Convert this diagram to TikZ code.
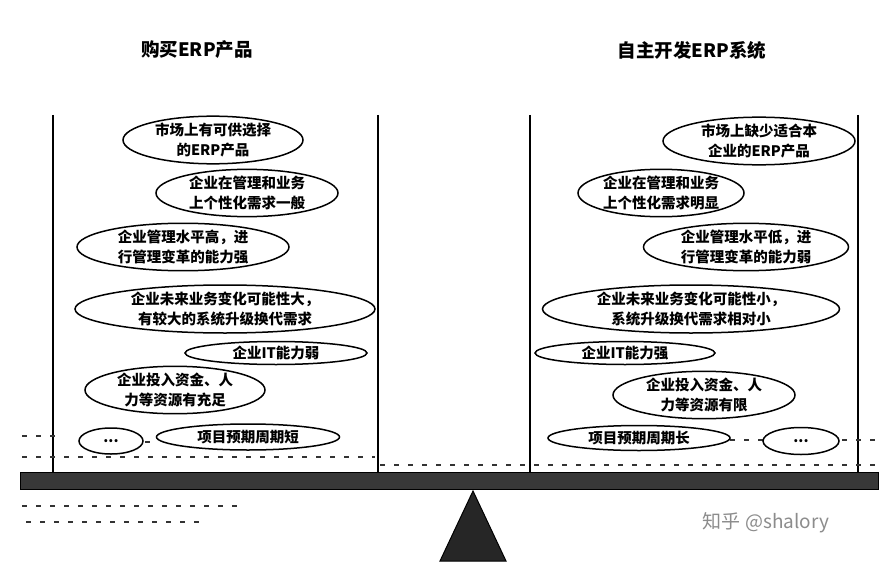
\documentclass[tikz,border=0pt]{standalone}
\usepackage{fontspec}
\setmainfont{Noto Sans CJK SC}
\usetikzlibrary{shapes.geometric}
\tikzset{
  bubble/.style={ellipse, draw=black, line width=1.5pt, fill=white, inner sep=0pt,
    align=center, font=\fontsize{14.5}{19.5}\selectfont\bfseries},
  title/.style={font=\fontsize{18.5}{22}\selectfont\bfseries},
  wall/.style={line width=2.3pt, black},
  noise/.style={line width=1.4pt, black!80, dash pattern=on 5pt off 9pt},
}
\begin{document}
\begin{tikzpicture}[x=1pt,y=-1pt]
\useasboundingbox[fill=white] (0,0) rectangle (890,564);
% titles
\node[title] (tl) at (197,50) {购买ERP产品};
\node[title] (tr) at (692,50) {自主开发ERP系统};
% pans
\coordinate (a1) at (53,115); \coordinate (a2) at (53,472);
\coordinate (b1) at (378,115); \coordinate (b2) at (378,472);
\coordinate (c1) at (530,115); \coordinate (c2) at (530,472);
\coordinate (d1) at (858,115); \coordinate (d2) at (858,472);
\draw[wall] (a1) -- (a2); \draw[wall] (b1) -- (b2);
\draw[wall] (c1) -- (c2); \draw[wall] (d1) -- (d2);
% noise dashes
\draw[noise] (22,436) -- (60,436);
\draw[noise] (22,457) -- (375,457);
\draw[noise] (380,465) -- (880,465);
\draw[noise] (22,506) -- (240,506);
\draw[noise] (26,522) -- (200,522);
\draw[noise] (730,440) -- (880,440);
\draw[noise] (145,442) -- (158,442);
% left bubbles
\node[bubble, minimum width=180pt, minimum height=44pt] (l1) at (213,140) {市场上有可供选择\\的ERP产品};
\node[bubble, minimum width=182pt, minimum height=44pt] (l2) at (247,193) {企业在管理和业务\\上个性化需求一般};
\node[bubble, minimum width=212pt, minimum height=44pt] (l3) at (183,247) {企业管理水平高，进\\行管理变革的能力强};
\node[bubble, minimum width=300pt, minimum height=48pt] (l4) at (225,309) {企业未来业务变化可能性大，\\有较大的系统升级换代需求};
\node[bubble, minimum width=182pt, minimum height=23pt] (l5) at (276,353) {企业IT能力弱};
\node[bubble, minimum width=180pt, minimum height=46pt] (l6) at (175,390) {企业投入资金、人\\力等资源有充足};
\node[bubble, minimum width=64pt, minimum height=26pt] (l7) at (111,441) {...};
\node[bubble, minimum width=183pt, minimum height=26pt] (l8) at (248,437) {项目预期周期短};
% right bubbles
\node[bubble, minimum width=192pt, minimum height=46pt] (r1) at (759,141) {市场上缺少适合本\\企业的ERP产品};
\node[bubble, minimum width=166pt, minimum height=46pt] (r2) at (661,193) {企业在管理和业务\\上个性化需求明显};
\node[bubble, minimum width=205pt, minimum height=46pt] (r3) at (746,247) {企业管理水平低，进\\行管理变革的能力弱};
\node[bubble, minimum width=297pt, minimum height=48pt] (r4) at (691,309) {企业未来业务变化可能性小，\\系统升级换代需求相对小};
\node[bubble, minimum width=180pt, minimum height=23pt] (r5) at (625,353) {企业IT能力强};
\node[bubble, minimum width=182pt, minimum height=46pt] (r6) at (704,395) {企业投入资金、人\\力等资源有限};
\node[bubble, minimum width=182pt, minimum height=25pt] (r7) at (639,438) {项目预期周期长};
\node[bubble, minimum width=76pt, minimum height=27pt] (r8) at (801,441) {...};
% beam and fulcrum
\node[draw=black, line width=1pt, fill=black!78, minimum width=858pt, minimum height=17pt, inner sep=0pt] (beam) at (449,481) {};
\coordinate (ap) at (473,491);
\coordinate (bl) at (440,561);
\coordinate (br) at (506,561);
\draw[fill=black!85, line width=1pt] (ap) -- (bl) -- (br) -- cycle;
% watermark
\node[font=\fontsize{19}{22}\selectfont, text=black!45] (wm) at (766,523) {知乎 @shalory};
\end{tikzpicture}
\end{document}
